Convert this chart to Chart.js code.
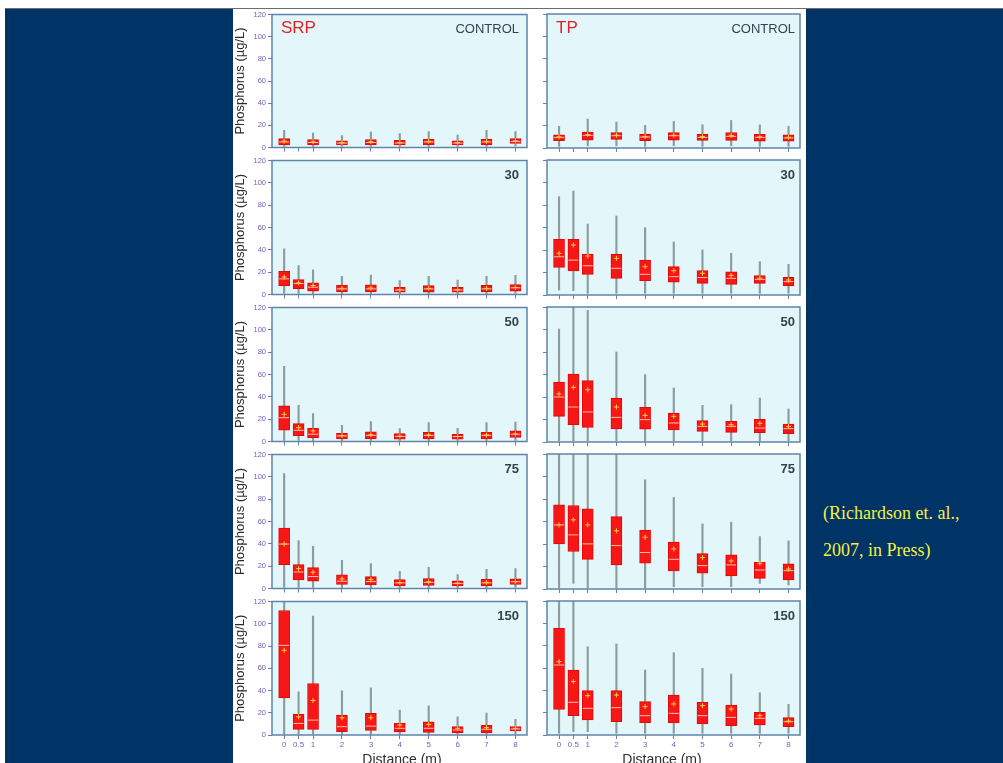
<!DOCTYPE html>
<html>
<head>
<meta charset="utf-8">
<script src="https://cdn.jsdelivr.net/npm/chart.js@4.4.1/dist/chart.umd.min.js"></script>
<style>
  html, body { margin: 0; padding: 0; width: 1003px; height: 763px; overflow: hidden; background: #fff;
    font-family: "Liberation Sans", Arial, sans-serif; }
  #slide { position: absolute; left: 5px; top: 8px; width: 998px; height: 755px; background: #003366;
    border-top: 1px solid #6d6d6d; box-sizing: border-box; }
  #figure { position: absolute; left: 233px; top: 9px; width: 573px; height: 754px; background: #fff; }
  canvas { position: absolute; }
  .lab { position: absolute; line-height: 1; white-space: nowrap; }
  .species { color: #e32222; font-size: 17px; }
  .treat { color: #36424c; font-size: 13px; text-align: right; }
  .num { font-weight: bold; }
  .xtitle { color: #2c2c2c; font-size: 14px; width: 200px; text-align: center; }
  #cite { position: absolute; left: 823px; top: 495px; color: #f4f142; font-family: "Liberation Serif", "Times New Roman", serif;
    font-size: 18px; line-height: 37px; white-space: nowrap; }
</style>
</head>
<body>
<div id="slide"></div>
<div id="figure"></div>
<div id="cite">(Richardson et. al.,<br>2007, in Press)</div>
<script>
// Sampling distances (m) and axis labels
const DISTANCES = [0, 0.5, 1, 2, 3, 4, 5, 6, 7, 8];
const DISTANCE_LABELS = ['0', '0.5', '1', '2', '3', '4', '5', '6', '7', '8'];
const CONTROL_DISTANCES = [0, 1, 2, 3, 4, 5, 6, 7, 8];
const Y_TICKS = [0, 20, 40, 60, 80, 100, 120];
const TREATMENTS = ['CONTROL', '30', '50', '75', '150'];

// SRP, control
const srpCtlMin  = [1, 1, 1, 1, 1, 1, 1, 1, 1.5];
const srpCtlQ1   = [2.4, 2.4, 2.4, 2.4, 2.4, 2.4, 2.4, 2.4, 3.6];
const srpCtlMed  = [5, 4.5, 4, 4.5, 4, 5, 4, 5, 5.5];
const srpCtlQ3   = [8, 7.1, 6, 7.1, 6.5, 7.4, 6, 7.4, 8];
const srpCtlMax  = [15.5, 13, 10.7, 14, 12.5, 14.3, 11.3, 15.5, 14.3];
const srpCtlMean = [5.8, 5.2, 4.5, 5.2, 4.6, 5.6, 4.4, 5.5, 6];

// TP, control
const tpCtlMin  = [1.5, 2, 2, 1.5, 2, 1.5, 2, 1.5, 1.5];
const tpCtlQ1   = [6.5, 7.1, 7.7, 6.5, 7.1, 6.8, 6.8, 6.2, 6.2];
const tpCtlMed  = [9.5, 11.3, 11, 9.8, 11, 9.5, 10.4, 9.5, 9];
const tpCtlQ3   = [11.9, 14.3, 13.7, 12.5, 13.7, 12.5, 13.9, 12.2, 11.9];
const tpCtlMax  = [19.3, 25.9, 23.2, 20.2, 23.8, 20.8, 24.7, 20.8, 19.3];
const tpCtlMean = [10, 12, 11.5, 10.3, 11.5, 10.2, 11.3, 10, 9.6];

// SRP, 30
const srp30Min  = [1, 1, 0.5, 0.5, 0.5, 0.5, 0.5, 0.5, 0.5, 1];
const srp30Q1   = [8, 5.3, 3, 2.4, 2.4, 2.1, 2.1, 2.1, 2.4, 3];
const srp30Med  = [14, 9.8, 6.5, 5, 5, 4, 5, 4, 5, 6];
const srp30Q3   = [20.7, 13.3, 10.4, 8.3, 8.6, 6.5, 8, 6.5, 8.3, 8.9];
const srp30Max  = [40.9, 26, 22.2, 16.3, 17.5, 12.4, 16.3, 13, 16.3, 17.2];
const srp30Mean = [15.7, 10.4, 8, 5.5, 5.8, 4.3, 5.5, 4.3, 5.5, 6.3];

// TP, 30
const tp30Min  = [4.4, 3.9, 1.5, 1.5, 1.5, 1.5, 1.5, 1.5, 1.5, 1.5];
const tp30Q1   = [24.6, 21.3, 18.4, 14.8, 12.7, 11.3, 10.4, 9.5, 10.4, 8];
const tp30Med  = [34, 31, 26, 23.7, 18.4, 16.3, 15.5, 14.8, 13.9, 11.9];
const tp30Q3   = [49.5, 49.5, 36.4, 36.4, 31.1, 25.2, 21.6, 20.7, 17.2, 15.7];
const tp30Max  = [87.4, 92.4, 63.1, 70.2, 59.9, 47.1, 40, 37, 29.6, 27.3];
const tp30Mean = [37, 44.4, 34.7, 32.6, 25.2, 21.6, 19.3, 17.5, 15, 13.3];

// SRP, 50
const srp50Min  = [1, 1, 0.5, 0.5, 0.5, 0.5, 0.5, 0.5, 0.5, 1];
const srp50Q1   = [10.1, 5.3, 3.3, 2.4, 2.4, 2.1, 2.4, 2.1, 2.4, 3.6];
const srp50Med  = [21.3, 10, 6.5, 5, 5.5, 4.5, 5.5, 4.5, 5.5, 6.5];
const srp50Q3   = [32, 16, 11.9, 7.4, 8.6, 7.1, 8.3, 6.5, 8.3, 9.5];
const srp50Max  = [67.3, 32.3, 24.9, 14.5, 17.8, 11.6, 16.9, 11.9, 16.9, 17.5];
const srp50Mean = [24.3, 12.4, 9.5, 5.3, 6, 4.8, 5.8, 4.5, 5.8, 6.8];

// TP, 50
const tp50Min  = [1, 1, 1, 1, 1, 1, 1, 1, 1, 1];
const tp50Q1   = [22.8, 15.4, 13, 11.6, 11.3, 10.7, 9.5, 8.6, 8.3, 7.4];
const tp50Med  = [40, 31.1, 26.7, 21.9, 19.9, 16.9, 13.9, 13.9, 12.4, 11.9];
const tp50Q3   = [53.3, 60.4, 54.5, 39.1, 30.8, 25.8, 19, 18.4, 20.1, 16];
const tp50Max  = [100.4, 120, 117, 80, 59.9, 48, 32.6, 33.2, 39.1, 29.3];
const tp50Mean = [42.7, 48.6, 46.5, 31.1, 23.7, 22.8, 16, 15.4, 16.6, 13.9];

// SRP, 75
const srp75Min  = [1, 1, 1, 0.5, 0.5, 0.5, 0.5, 0.5, 0.5, 1];
const srp75Q1   = [21.4, 7.7, 6.5, 3.6, 3.3, 2.4, 2.7, 2.4, 2.4, 3.6];
const srp75Med  = [39.8, 14.8, 10.7, 6.5, 6.2, 5, 5.5, 4.5, 5, 6];
const srp75Q3   = [54, 21.4, 18.7, 12.2, 10.7, 8, 8.9, 6.8, 8.3, 8.6];
const srp75Max  = [103, 43, 37.7, 25.2, 22.3, 15.4, 19, 12.5, 17.2, 17.8];
const srp75Mean = [39.8, 17.8, 14.6, 8.6, 8, 5.3, 6, 4.8, 5.5, 6.3];

// TP, 75
const tp75Min  = [1, 5, 1, 1, 1, 2, 2, 2, 5, 3.5];
const tp75Q1   = [40.1, 33.3, 26.4, 21.4, 22.9, 16, 14, 11.6, 9.5, 8];
const tp75Med  = [57, 48.1, 40.1, 38.6, 32.4, 26.4, 20.8, 21.4, 16.9, 16.3];
const tp75Q3   = [74.8, 74.2, 71.3, 64.4, 52.3, 41.6, 31.5, 30.3, 23.8, 22.3];
const tp75Max  = [120, 120, 120, 120, 97.1, 81.4, 57.9, 59.4, 46.6, 42.8];
const tp75Mean = [57, 61.5, 57, 51.7, 46, 35.6, 27.9, 24.9, 22.9, 17.8];

// SRP, 150
const srp150Min  = [0, 1, 1, 0.5, 0.5, 0.5, 0.5, 0.5, 0.5, 1];
const srp150Q1   = [33.4, 5.1, 5.1, 3, 4.2, 2.7, 2.4, 1.8, 1.8, 3.6];
const srp150Med  = [80.6, 10.4, 13.4, 7.5, 8, 6, 6, 4.5, 5.1, 5.4];
const srp150Q3   = [111.9, 18.5, 46.3, 17.9, 19.4, 10.4, 11.9, 7.5, 8.7, 7.5];
const srp150Max  = [120, 38.8, 106.9, 39.7, 42.4, 22.4, 26.3, 16.4, 19.7, 14];
const srp150Mean = [76.1, 16.4, 31, 15.5, 15.5, 9, 9.6, 6, 6.6, 6];

// TP, 150
const tp150Min  = [1.5, 3, 3, 1.5, 1.5, 1.5, 1.5, 1.5, 1.5, 1.5];
const tp150Q1   = [23, 17.3, 13.4, 11.9, 11, 11, 9.9, 8.4, 9, 7.5];
const tp150Med  = [62.7, 29.3, 23.9, 24.5, 17.3, 19.4, 17.3, 15.8, 14.9, 11.9];
const tp150Q3   = [95.5, 58.2, 39.7, 39.7, 29.9, 35.8, 29.3, 26.9, 20.3, 15.5];
const tp150Max  = [120, 120, 79.1, 81.5, 58.2, 73.7, 59.7, 54.6, 37.9, 27.5];
const tp150Mean = [65.7, 47.8, 35.2, 35.8, 25.4, 27.8, 26.3, 23.3, 17.3, 12.5];

// Panel grid: rows = treatments, columns = SRP | TP
const PANELS = [
  [[CONTROL_DISTANCES, srpCtlMin, srpCtlQ1, srpCtlMed, srpCtlQ3, srpCtlMax, srpCtlMean],
   [CONTROL_DISTANCES, tpCtlMin, tpCtlQ1, tpCtlMed, tpCtlQ3, tpCtlMax, tpCtlMean]],
  [[DISTANCES, srp30Min, srp30Q1, srp30Med, srp30Q3, srp30Max, srp30Mean],
   [DISTANCES, tp30Min, tp30Q1, tp30Med, tp30Q3, tp30Max, tp30Mean]],
  [[DISTANCES, srp50Min, srp50Q1, srp50Med, srp50Q3, srp50Max, srp50Mean],
   [DISTANCES, tp50Min, tp50Q1, tp50Med, tp50Q3, tp50Max, tp50Mean]],
  [[DISTANCES, srp75Min, srp75Q1, srp75Med, srp75Q3, srp75Max, srp75Mean],
   [DISTANCES, tp75Min, tp75Q1, tp75Med, tp75Q3, tp75Max, tp75Mean]],
  [[DISTANCES, srp150Min, srp150Q1, srp150Med, srp150Q3, srp150Max, srp150Mean],
   [DISTANCES, tp150Min, tp150Q1, tp150Med, tp150Q3, tp150Max, tp150Mean]]
];

// Layout of the plot areas (page pixels)
const ROW_TOP = [14, 160, 307, 454, 601];
const ROW_BOTTOM = [148, 295, 442, 589, 735];
const COLS = [
  { left: 233, width: 300, yAxis: 39, right: 3, species: 'SRP', labelRight: 519 },
  { left: 533, width: 273, yAxis: 14, right: 3, species: 'TP', labelRight: 795 }
];
const PAD_TOP = 6;

const FRAME = '#5f84aa';
const PANEL_BG = '#e3f7fb';
const TICK_TEXT = '#6f5fc0';
const BOX_FILL = '#f81616';
const BOX_EDGE = '#e00808';
const WHISKER = '#8d9d9f';
const MEDIAN = '#ffc4b4';
const MEAN = '#ffd23a';

const panelFrame = {
  id: 'panelFrame',
  beforeDraw(chart) {
    const a = chart.chartArea, c = chart.ctx;
    c.save();
    c.fillStyle = PANEL_BG;
    c.fillRect(a.left, a.top, a.right - a.left, a.bottom - a.top);
    c.restore();
  },
  afterDraw(chart) {
    const a = chart.chartArea, c = chart.ctx;
    c.save();
    c.strokeStyle = FRAME;
    c.lineWidth = 1.5;
    c.strokeRect(a.left, a.top, a.right - a.left, a.bottom - a.top);
    c.restore();
  }
};

function addLabel(text, cls, style) {
  const d = document.createElement('div');
  d.className = 'lab ' + cls;
  d.textContent = text;
  Object.assign(d.style, style);
  document.body.appendChild(d);
}

PANELS.forEach((row, r) => {
  row.forEach((panel, ci) => {
    const col = COLS[ci];
    const [xs, mins, q1s, meds, q3s, maxs, means] = panel;
    const isBottom = r === PANELS.length - 1;
    const isLeft = ci === 0;
    const plotH = ROW_BOTTOM[r] - ROW_TOP[r];
    const xAxisH = isBottom ? 18 : 6;

    const cv = document.createElement('canvas');
    cv.width = col.width;
    cv.height = PAD_TOP + plotH + xAxisH;
    cv.style.left = col.left + 'px';
    cv.style.top = (ROW_TOP[r] - PAD_TOP) + 'px';
    document.body.appendChild(cv);

    new Chart(cv, {
      type: 'bar',
      data: {
        datasets: [
          { type: 'bar', data: xs.map((x, i) => ({ x, y: [mins[i], maxs[i]] })),
            backgroundColor: WHISKER, barThickness: 1.5, grouped: false, order: 4, clip: 0 },
          { type: 'bar', data: xs.map((x, i) => ({ x, y: [q1s[i], q3s[i]] })),
            backgroundColor: BOX_FILL, borderColor: BOX_EDGE, borderWidth: 1, borderSkipped: false,
            barThickness: 11, grouped: false, order: 3, clip: 0 },
          { type: 'line', data: xs.map((x, i) => ({ x, y: meds[i] })), showLine: false,
            pointStyle: 'line', pointRadius: 5, borderColor: MEDIAN, borderWidth: 1, order: 2 },
          { type: 'line', data: xs.map((x, i) => ({ x, y: means[i] })), showLine: false,
            pointStyle: 'cross', pointRadius: 2.5, borderColor: MEAN, borderWidth: 1, order: 1 }
        ]
      },
      options: {
        responsive: false,
        animation: false,
        events: [],
        layout: { padding: { top: PAD_TOP, right: col.right, left: 0, bottom: 0 } },
        plugins: { legend: { display: false }, tooltip: { enabled: false } },
        scales: {
          x: {
            type: 'linear', min: -0.42, max: 8.4, offset: false,
            afterBuildTicks: s => { s.ticks = DISTANCES.map(v => ({ value: v })); },
            afterFit: s => { s.height = xAxisH; },
            grid: { drawOnChartArea: false, drawTicks: true, tickLength: 4, color: FRAME, offset: false },
            border: { display: false },
            ticks: { display: isBottom, autoSkip: false, maxRotation: 0, padding: 1, color: TICK_TEXT,
                     font: { size: 8, family: 'Liberation Sans' }, callback: (v, i) => DISTANCE_LABELS[i] }
          },
          y: {
            min: 0, max: 120,
            afterBuildTicks: s => { s.ticks = Y_TICKS.map(v => ({ value: v })); },
            afterFit: s => { s.width = col.yAxis; },
            grid: { drawOnChartArea: false, drawTicks: true, tickLength: 4, color: FRAME },
            border: { display: false },
            ticks: { display: isLeft, padding: 2, color: TICK_TEXT,
                     font: { size: 7.5, family: 'Liberation Sans' }, callback: (v, i) => String(Y_TICKS[i]) },
            title: { display: isLeft, text: 'Phosphorus (µg/L)', color: '#2a2a2a', padding: 0,
                     font: { size: 13, family: 'Liberation Sans' } }
          }
        }
      },
      plugins: [panelFrame]
    });

    // Treatment label in the upper right of each panel
    const treat = TREATMENTS[r];
    addLabel(treat, 'treat' + (treat === 'CONTROL' ? '' : ' num'), {
      left: (col.labelRight - 120) + 'px', width: '120px', top: (ROW_TOP[r] + 7.5) + 'px'
    });
    // Species label on the top row
    if (r === 0) {
      addLabel(col.species, 'species', {
        left: (col.left + col.yAxis + (isLeft ? 9 : 9)) + 'px', top: (ROW_TOP[r] + 4.8) + 'px'
      });
    }
    if (isBottom) {
      const centre = isLeft ? 402 : 662;
      addLabel('Distance (m)', 'xtitle', { left: (centre - 100) + 'px', top: '752px' });
    }
  });
});
</script>
</body>
</html>
